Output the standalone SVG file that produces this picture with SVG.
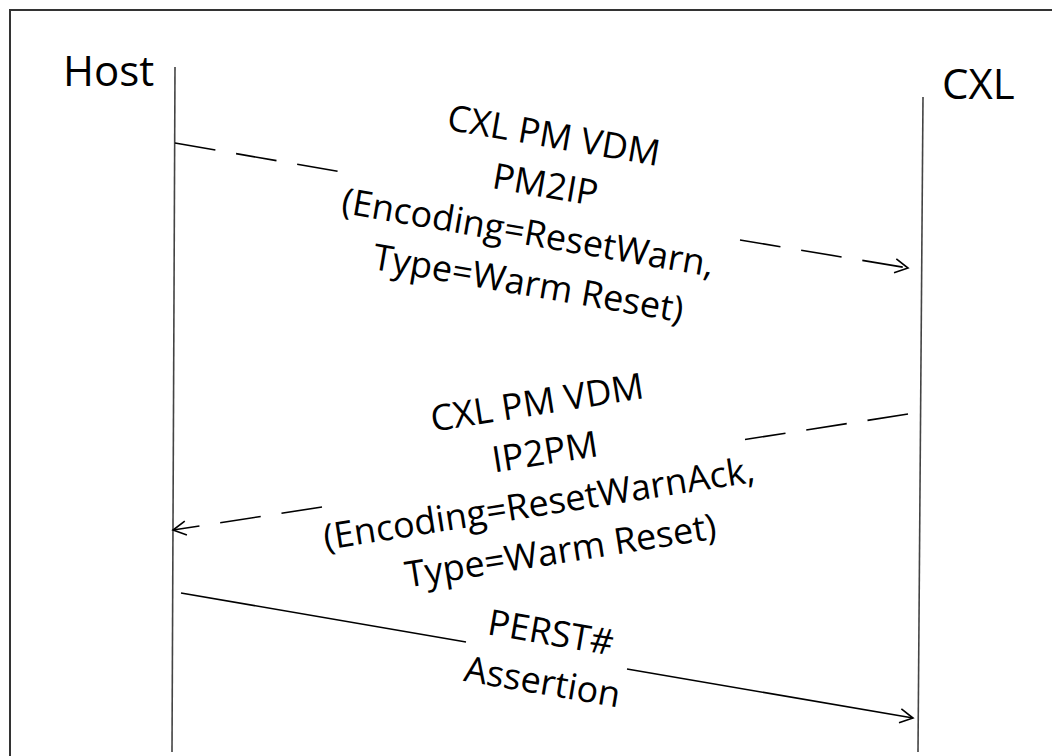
<svg xmlns="http://www.w3.org/2000/svg" width="1052" height="756" viewBox="0 0 1052 756">
  <style>
    .lbl { font-family: "Open Sans", "Noto Sans", "Liberation Sans", sans-serif; fill: #000; }
    .head { font-size: 42px; }
    .msg { font-size: 36px; text-anchor: middle; }
    .life { stroke: #444; stroke-width: 1.6; fill: none; }
    .arr { stroke: #000; stroke-width: 1.6; fill: none; }
    .dash { stroke-dasharray: 41 21; }
  </style>
  <defs>
    <marker id="open" markerUnits="userSpaceOnUse" viewBox="0 0 16 16" markerWidth="16" markerHeight="16" refX="14" refY="8" orient="auto">
      <path d="M1,1 L14,8 L1,15" fill="none" stroke="#000" stroke-width="1.6" stroke-dasharray="none"/>
    </marker>
  </defs>
  <rect x="0" y="0" width="1052" height="756" fill="#fff"/>
  <rect x="10" y="10" width="1100" height="800" fill="none" stroke="#333" stroke-width="2"/>

  <g id="host">
    <text class="lbl head" x="63" y="86">Host</text>
    <line class="life" x1="175" y1="67" x2="172" y2="752"/>
  </g>
  <g id="cxl">
    <text class="lbl head" x="942" y="99">CXL</text>
    <line class="life" x1="923" y1="97" x2="918" y2="752"/>
  </g>

  <g id="connectors">
    <g id="msg1">
      <path class="arr dash" d="M175,143 L342,172"/>
      <path class="arr dash" d="M740,240 L908,268" marker-end="url(#open)"/>
      <g transform="translate(554,135) rotate(9.8)">
        <text class="lbl msg" x="0" y="13">CXL PM VDM</text>
        <text class="lbl msg" x="0" y="63">PM2IP</text>
        <text class="lbl msg" x="-9" y="113">(Encoding=ResetWarn,</text>
        <text class="lbl msg" x="0" y="163">Type=Warm Reset)</text>
      </g>
    </g>
    <g id="msg2">
      <path class="arr dash" d="M908,414 L742,440"/>
      <path class="arr dash" d="M322,507 L173,530" marker-end="url(#open)"/>
      <g transform="translate(537,402) rotate(-9)">
        <text class="lbl msg" x="0" y="13">CXL PM VDM</text>
        <text class="lbl msg" x="0" y="63">IP2PM</text>
        <text class="lbl msg" x="-14" y="113">(Encoding=ResetWarnAck,</text>
        <text class="lbl msg" x="0" y="163">Type=Warm Reset)</text>
      </g>
    </g>
    <g id="msg3">
      <path class="arr" d="M181,593 L466,642"/>
      <path class="arr" d="M627,669 L913,718" marker-end="url(#open)"/>
      <g transform="translate(551,632) rotate(9.7)">
        <text class="lbl msg" x="0" y="13">PERST#</text>
        <text class="lbl msg" x="0" y="63">Assertion</text>
      </g>
    </g>
  </g>
</svg>
